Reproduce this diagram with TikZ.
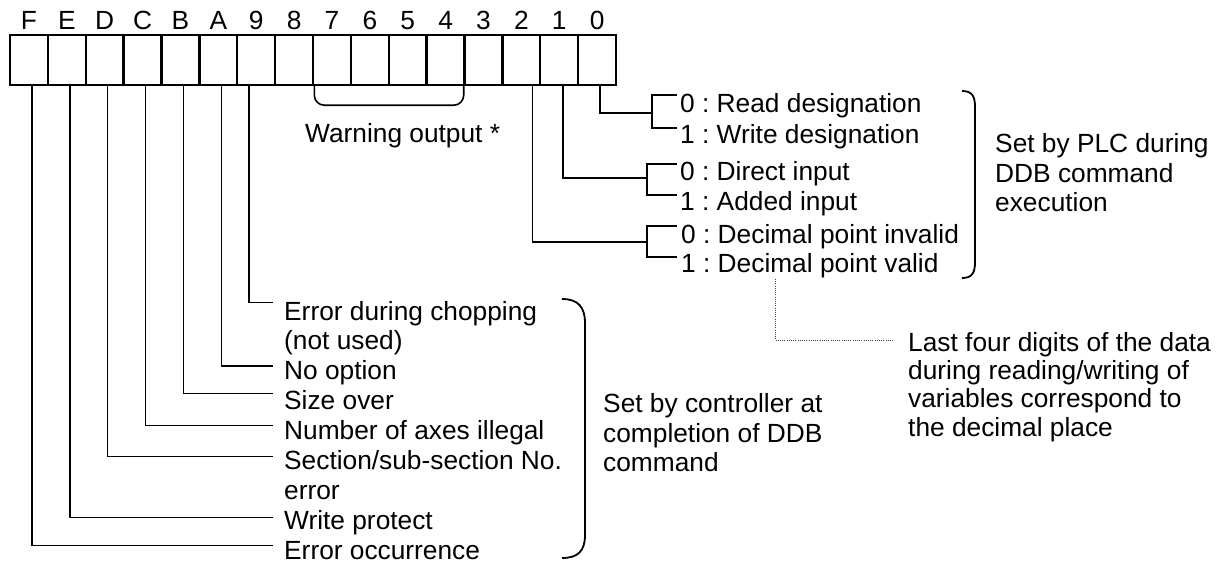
\documentclass[tikz,border=0pt]{standalone}
\usepackage{fontspec}
\setmainfont{Liberation Sans}
\frenchspacing
\begin{document}
\begin{tikzpicture}[x=1pt,y=-1pt,
  every node/.style={font=\fontsize{26.3}{30}\selectfont\frenchspacing, inner sep=0pt, text=black},
  cell/.style={draw, line width=2.4pt, minimum width=37.875pt, minimum height=50pt},
  bitlbl/.style={anchor=base},
  txt/.style={anchor=base west},
  lead/.style={line width=1.4pt},
  bracket/.style={line width=1.6pt},
  brace/.style={line width=1.8pt},
  dotline/.style={line width=0.9pt, dash pattern=on 1pt off 1.2pt, black!75}]
\useasboundingbox (0,0) rectangle (1223,565);

% register cells and bit numbers
\foreach \l [count=\i from 0] in {F,E,D,C,B,A,9,8,7,6,5,4,3,2,1,0} {
  \node[cell] (c\l) at ({28.9375+37.875*\i},60) {};
  \node[bitlbl] (t\l) at ([yshift=4.5pt]c\l.north) {\l};
}

% warning bits 7..4
\draw[bracket, rounded corners=10pt] ([xshift=2.5pt]c7.south west) -- ++(0,19) -| ([xshift=-2pt]c4.south east);
\node[txt] (warn) at (305,142) {Warning output *};

% bits set by the PLC
\node[txt] (r0a) at (680,112) {0 : Read designation};
\node[txt] (r0b) at (680,143) {1 : Write designation};
\node[txt] (r1a) at (680,180) {0 : Direct input};
\node[txt] (r1b) at (680,210) {1 : Added input};
\node[txt] (r2a) at (681,243) {0 : Decimal point invalid};
\node[txt] (r2b) at (681,272) {1 : Decimal point valid};

\coordinate (j0) at (652,113);
\coordinate (j1) at (647,178);
\coordinate (j2) at (647,242);
\draw[lead] ([xshift=3pt]c0.south) |- (j0);
\draw[lead] ([xshift=4pt]c1.south) |- (j1);
\draw[lead] ([xshift=11pt]c2.south) |- (j2);
\draw[lead] (677,95) -- (652,95) -- (652,128) -- (677,128);
\draw[lead] (677,164) -- (647,164) -- (647,195) -- (677,195);
\draw[lead] (677,226) -- (647,226) -- (647,257) -- (677,257);

\draw[brace] (962,91) .. controls (972,91) and (975,96) .. (975,107) -- (975,262) .. controls (975,273) and (972,278) .. (962,278);
\node[txt] (plc1) at (995,152) {Set by PLC during};
\node[txt] (plc2) at (995,182) {DDB command};
\node[txt] (plc3) at (995,211) {execution};

% decimal place note
\coordinate (d0) at (775,279);
\coordinate (d1) at (893,340);
\draw[dotline] (d0) |- (d1);
\node[txt] (dec1) at (908,351) {Last four digits of the data};
\node[txt] (dec2) at (908,379) {during reading/writing of};
\node[txt] (dec3) at (908,407) {variables correspond to};
\node[txt] (dec4) at (908,436) {the decimal place};

% bits set by the controller
\node[txt] (e9)  at (284,320.7) {Error during chopping};
\node[txt] (e9b) at (284,349) {(not used)};
\node[txt] (eA)  at (284,379) {No option};
\node[txt] (eB)  at (284,409) {Size over};
\node[txt] (eC)  at (284,439) {Number of axes illegal};
\node[txt] (eD)  at (284,469) {Section/sub-section No.};
\node[txt] (eDb) at (284,499) {error};
\node[txt] (eE)  at (284,529) {Write protect};
\node[txt] (eF)  at (284,559) {Error occurrence};

\foreach \l/\xs/\yy in {9/-7/302.7, A/3/366, B/3/393.3, C/3/425.7, D/3/456.7, E/3/517.3, F/3/545.7} {
  \coordinate (h\l) at (273.3,\yy);
  \draw[lead] ([xshift=\xs pt]c\l.south) |- (h\l);
}

\draw[brace] (562,299) .. controls (578,299) and (585,307) .. (585,323) -- (585,535) .. controls (585,551) and (578,558) .. (562,558);
\node[txt] (ctl1) at (603,412) {Set by controller at};
\node[txt] (ctl2) at (603,442) {completion of DDB};
\node[txt] (ctl3) at (603,471) {command};
\end{tikzpicture}
\end{document}
